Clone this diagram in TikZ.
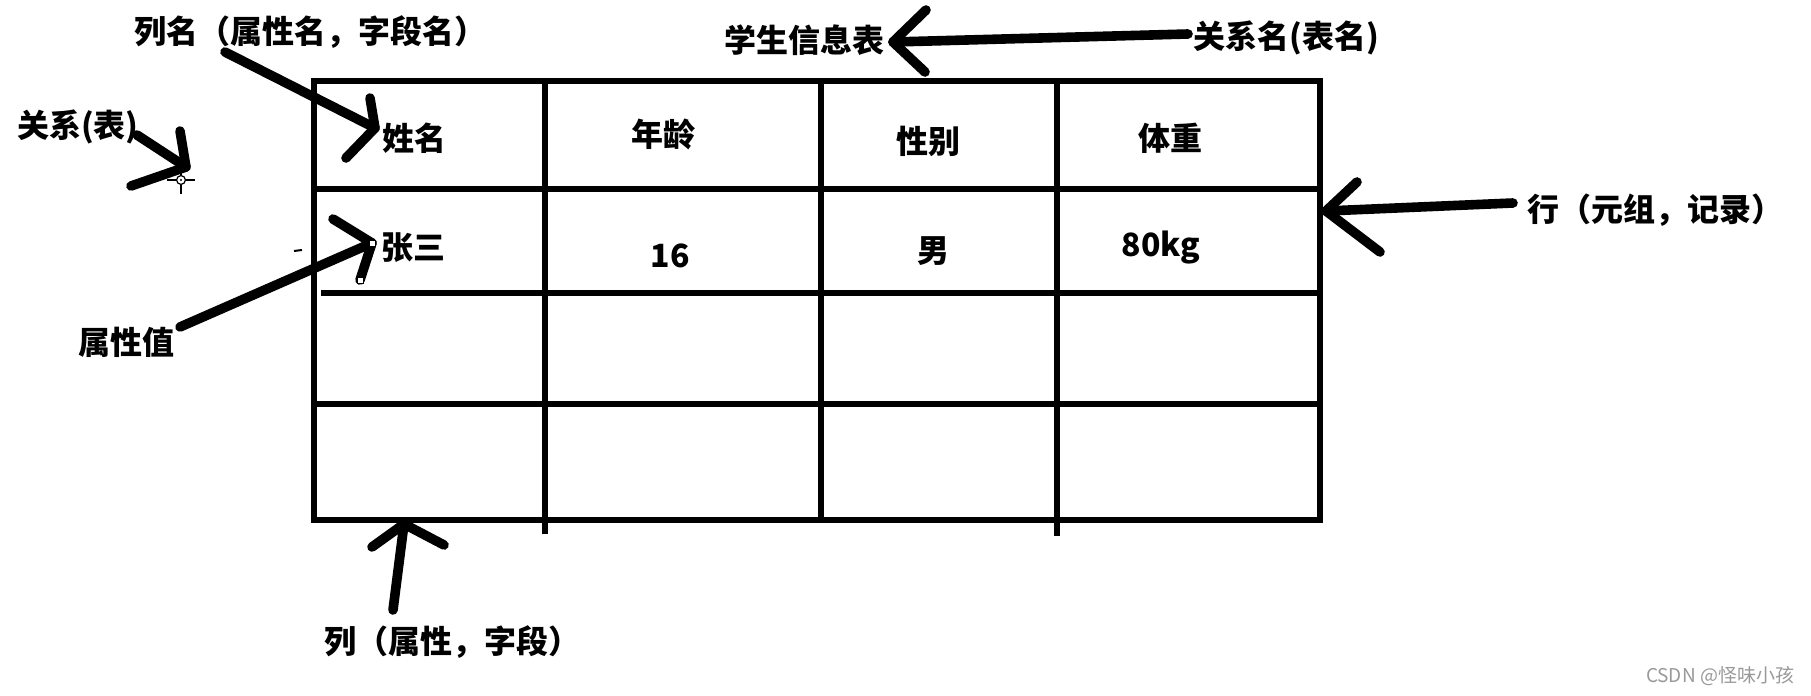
\documentclass[tikz,border=0pt]{standalone}
\usepackage{fontspec}
\newfontfamily\cjk{Noto Sans CJK SC}
\tikzset{
  tbl/.style={line width=3.4pt, line cap=rect},
  hand/.style={line width=4.8pt, line cap=round, line join=round},
  lbl/.style={font=\cjk\bfseries\fontsize{16}{19}\selectfont, inner sep=0pt},
  cell/.style={font=\cjk\bfseries\fontsize{16}{19}\selectfont, inner sep=0pt},
  handle/.style={draw=black, fill=white, line width=0.5pt, minimum size=3pt, inner sep=0pt},
}
\begin{document}
\begin{tikzpicture}[x=0.5pt,y=-0.5pt]
\useasboundingbox (0,0) rectangle (1811,696);
% table
\draw[tbl] (314,81) rectangle (1320,520);
\draw[tbl] (314,189) -- (1320,189);
\draw[tbl] (324,293) -- (1320,293);
\draw[tbl] (314,404) -- (1320,404);
\draw[tbl] (545,81) -- (545,531);
\draw[tbl] (821,81) -- (821,515);
\draw[tbl] (1057,81) -- (1057,533);
% cells
\node[cell] (c11) at (414,138) {姓名};
\node[cell] (c12) at (663,134) {年龄};
\node[cell] (c13) at (928,141) {性别};
\node[cell] (c14) at (1170,138) {体重};
\node[cell] (c21) at (413,248) {张三};
\node[cell] (c22) at (670,256) {16};
\node[cell] (c23) at (933,251) {男};
\node[cell] (c24) at (1161,248) {80kg};
% labels
\node[lbl] (colname) at (310,32) {列名（属性名，字段名）};
\node[lbl] (tname) at (804,40) {学生信息表};
\node[lbl] (relname) at (1286,38) {关系名(表名)};
\node[lbl] (rel) at (78,127) {关系(表)};
\node[lbl] (row) at (1655,210) {行（元组，记录）};
\node[lbl] (attrval) at (126,342) {属性值};
\node[lbl] (col) at (452,642) {列（属性，字段）};
\node[font=\cjk\fontsize{9.5}{11}\selectfont, text=black!40, inner sep=0pt] (csdn) at (1720,676) {CSDN @怪味小孩};
% arrow coordinates
\coordinate (a1s) at (225,52);   \coordinate (a1t) at (375,128);
\coordinate (a1u) at (370,98);   \coordinate (a1d) at (346,158);
\coordinate (a2s) at (137,135);  \coordinate (a2t) at (186,167);
\coordinate (a2u) at (180,131);  \coordinate (a2d) at (131,186);
\coordinate (a3s) at (1188,34);  \coordinate (a3t) at (893,42);
\coordinate (a3u) at (926,10);   \coordinate (a3d) at (925,72);
\coordinate (a4s) at (1513,203); \coordinate (a4t) at (1326,211);
\coordinate (a4u) at (1357,182); \coordinate (a4d) at (1380,252);
\coordinate (a5s) at (180,327);  \coordinate (a5t) at (372,243);
\coordinate (a5u) at (333,219);  \coordinate (a5d) at (360,280);
\coordinate (a6s) at (393,610);  \coordinate (a6t) at (404,524);
\coordinate (a6l) at (372,547);  \coordinate (a6r) at (444,545);
% arrows
\draw[hand] (a1s) -- (a1t); \draw[hand] (a1u) -- (a1t) -- (a1d);
\draw[hand] (a2s) -- (a2t); \draw[hand] (a2u) -- (a2t) -- (a2d);
\draw[hand] (a3s) -- (a3t); \draw[hand] (a3u) -- (a3t) -- (a3d);
\draw[hand] (a4s) -- (a4t); \draw[hand] (a4u) -- (a4t) -- (a4d);
\draw[hand] (a5s) -- (a5t); \draw[hand] (a5u) -- (a5t) -- (a5d);
\draw[hand] (a6s) -- (a6t); \draw[hand] (a6l) -- (a6t) -- (a6r);
% editing handles and cursor
\node[handle] (h1) at (a5t) {};
\node[handle] (h2) at (a5d) {};
\coordinate (cur) at (181,180);
\draw[line width=0.6pt] ([xshift=-7pt]cur) -- ([xshift=7pt]cur) ([yshift=-7pt]cur) -- ([yshift=7pt]cur);
\draw[line width=0.6pt, fill=white] (cur) circle (2.2pt);
\fill (cur) circle (0.6pt);
\draw[line width=1pt] (294,251) -- (302,250);
\end{tikzpicture}
\end{document}
